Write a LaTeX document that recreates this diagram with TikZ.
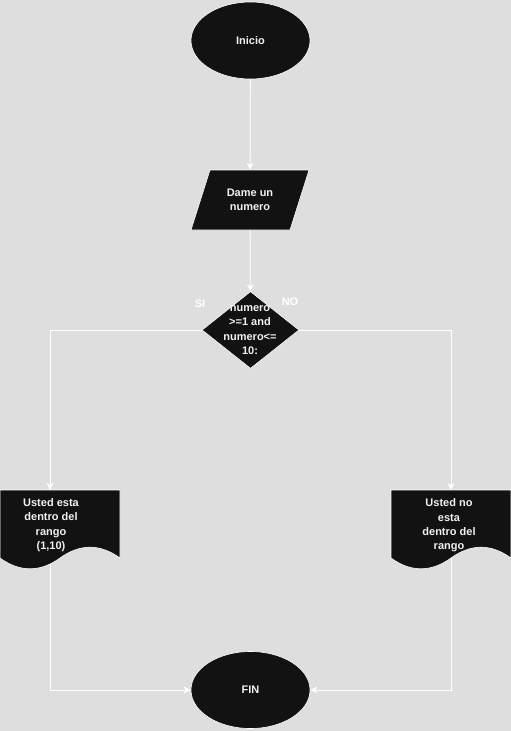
\documentclass[tikz,border=0pt]{standalone}
\usepackage{fontspec}
\setmainfont{Liberation Sans}
\usepackage{tikz}
\usepackage{xcolor}
\usetikzlibrary{shapes.geometric}
\usetikzlibrary{arrows.meta}

\definecolor{bggray}{HTML}{DEDEDE}
\definecolor{boxfill}{HTML}{121212}
\definecolor{boxtext}{HTML}{F0F0F0}

\begin{document}
\begin{tikzpicture}[
    x=1pt, y=-1pt,
    >={Stealth[length=7pt,width=7pt,inset=2pt]},
    lbl/.style={text=boxtext, font=\fontsize{11}{14.4}\selectfont\bfseries, align=center, inner sep=0pt},
    side/.style={text=white, font=\fontsize{11}{14.4}\selectfont\bfseries, inner sep=0pt},
    edge/.style={draw=white, fill=boxfill, line width=0.6pt},
    terminal/.style={edge, ellipse, minimum width=119pt, minimum height=77pt, inner sep=0pt},
    decision/.style={edge, diamond, minimum width=97pt, minimum height=77pt, inner sep=0pt},
    wire/.style={draw=white, line width=0.8pt}
]
\useasboundingbox (0,0) rectangle (511,731);
\fill [bggray] (0,0) rectangle (511,731);
\node [terminal] at (250.5, 40.5) (inicio) {};
\node [lbl] at (250.5, 40.5) {Inicio};
\filldraw [edge] (210,170) -- (309,170) -- (290,230) -- (191,230) -- cycle;
\node [lbl, minimum height=60pt] at (250, 200) (dame) {Dame un\\numero};
\node [decision] at (250.5, 330) (cond) {};
\node [lbl] at (250, 330) {numero\\>=1 and\\numero<=\\10:};
\node [side] at (200, 304) {SI};
\node [side] at (290, 302) {NO};
% documentos
\filldraw [edge] (0,490) -- (120,490) -- (120,558)
    .. controls (100,543.6) and (80,543.6) .. (60,558)
    .. controls (40,572.4) and (20,572.4) .. (0,558) -- cycle;
\node [lbl] at (51, 525) (docl) {Usted esta\\dentro del\\rango\\(1,10)};
\filldraw [edge] (391,490) -- (511,490) -- (511,558)
    .. controls (491,543.6) and (471,543.6) .. (451,558)
    .. controls (431,572.4) and (411,572.4) .. (391,558) -- cycle;
\node [lbl] at (449, 525.5) (docr) {Usted no\\esta\\dentro del\\rango};
\node [terminal] at (250.5, 690) (fin) {};
\node [lbl] at (250.5, 690) {FIN};
\coordinate (docltop) at (50, 490);
\coordinate (docrtop) at (451, 490);
\coordinate (doclbot) at (50, 564);
\coordinate (docrbot) at (451, 558);
\draw [->, wire] (inicio)--(dame);
\draw [->, wire] (dame)--(cond);
\draw [->, wire] (cond.west) -| (docltop);
\draw [->, wire] (cond.east) -| (docrtop);
\draw [->, wire] (doclbot) |- (fin.west);
\draw [->, wire] (docrbot) |- (fin.east);
\end{tikzpicture}
\end{document}
